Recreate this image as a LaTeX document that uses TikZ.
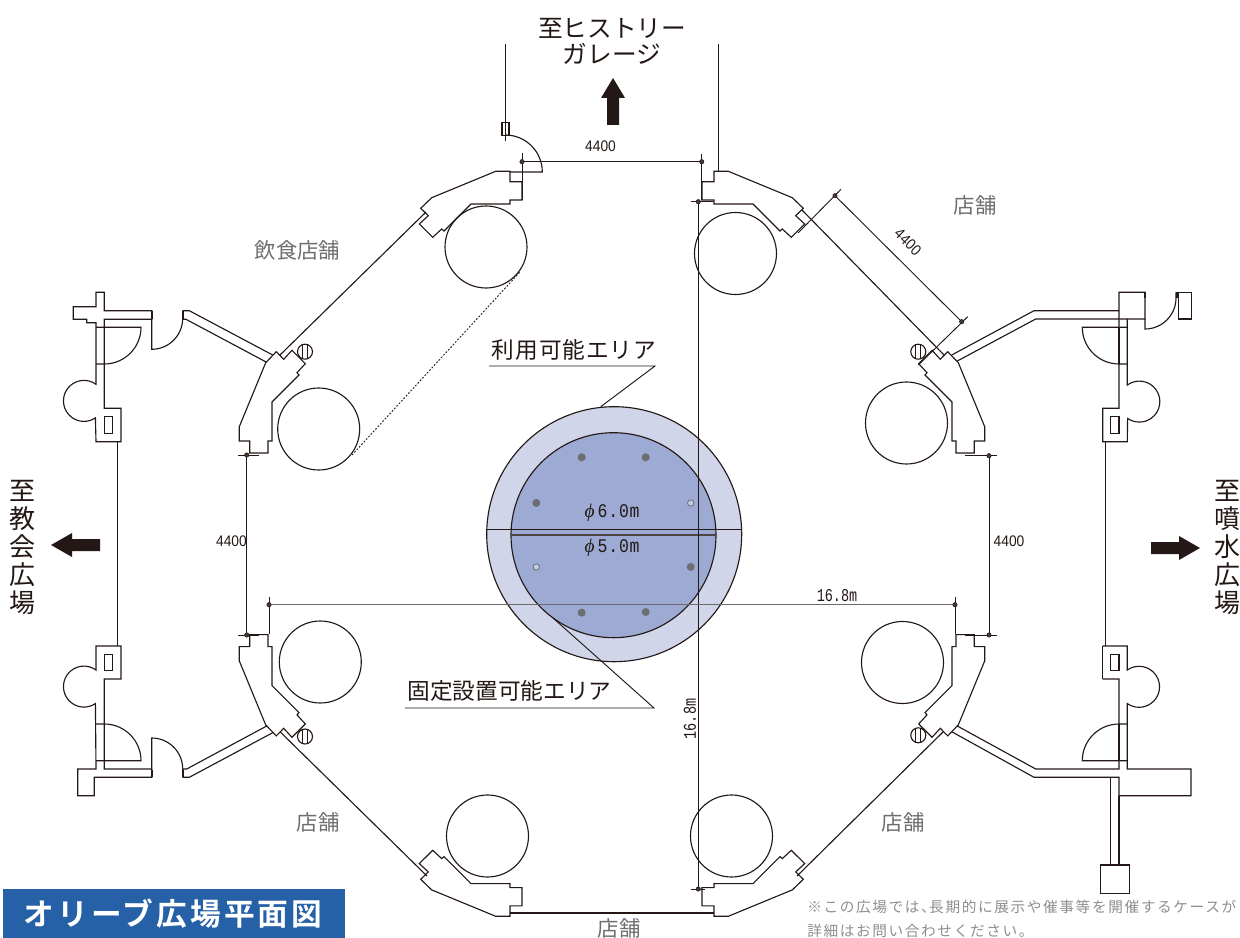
\documentclass[tikz,border=0pt]{standalone}
\usepackage{fontspec}
\setmainfont{Liberation Sans}
\newfontfamily\jp{Noto Sans CJK JP}
\newfontfamily\jpnote[LetterSpace=11]{Noto Sans CJK JP}
\newfontfamily\jplabel[LetterSpace=4]{Noto Sans CJK JP}
\newfontfamily\jptitle[LetterSpace=10]{Noto Sans CJK JP Bold}
\newfontfamily\dimmono[FakeStretch=0.75]{Liberation Mono}
\newfontfamily\dimmonob[FakeStretch=0.85,LetterSpace=4]{Liberation Mono}
\newfontfamily\dimsans[FakeStretch=0.9]{Liberation Sans}
\newfontfamily\phifont{Liberation Serif Italic}
\definecolor{ink}{HTML}{231815}
\definecolor{dimgrey}{HTML}{6D6A6A}
\definecolor{shopgrey}{HTML}{6E6E70}
\definecolor{notegrey}{HTML}{8E8E90}
\definecolor{areaout}{HTML}{D0D5E9}
\definecolor{areain}{HTML}{9DAAD3}
\definecolor{peg}{HTML}{6D6E71}
\definecolor{titleblue}{HTML}{2660A6}
\newcommand{\kioskpath}{(420.7,208.3) -- (431.7,197.7) -- (495.7,171.3) -- (510,171.3) -- (510,181.7) -- (522,181.7) -- (522,200) -- (510,200) -- (510,204) -- (471,204) -- (444,231) -- (441.7,229) -- (432.7,237.3) -- (419.3,224) -- (428.3,215.7) -- cycle}
\tikzset{
  x=0.75pt,y=-0.75pt,
  plan/.style={draw=ink,line width=0.85pt,line join=miter},
  heavy/.style={draw=ink,line width=1.3pt},
  dimline/.style={draw=ink,line width=0.7pt},
  dimgreyline/.style={draw=dimgrey,line width=0.95pt},
  dimdot/.style={fill=ink!85,draw=ink,line width=0.4pt},
  arrowblock/.style={fill=ink,draw=none},
  shoplabel/.style={text=shopgrey,font=\jp\fontsize{16}{16}\selectfont,inner sep=0pt},
  dimlabel/.style={text=ink,font=\dimsans\fontsize{11.5}{11.5}\selectfont,inner sep=0pt},
  monolabel/.style={text=ink,font=\dimmono\fontsize{13.5}{13.5}\selectfont,inner sep=0pt},
  centrelabel/.style={text=ink,font=\dimmonob\fontsize{14.5}{14.5}\selectfont,inner sep=0pt},
  pegfull/.style={fill=peg,draw=none},
  pegopen/.style={fill=areain!60!white,draw=peg,line width=0.6pt},
  toplabel/.style={text=ink,font=\jp\fontsize{18.5}{19.5}\selectfont,align=center,inner sep=0pt},
  dirlabel/.style={text=ink,font=\jp\fontsize{19.5}{20.85}\selectfont,align=center,inner sep=0pt},
  arealabel/.style={text=ink,font=\jplabel\fontsize{17}{17}\selectfont,inner sep=0pt},
  arealabeltight/.style={text=ink,font=\jp\fontsize{17}{17}\selectfont,inner sep=0pt},
}
\begin{document}
\begin{tikzpicture}
\useasboundingbox (0,0) rectangle (1240,938);
% central areas
\fill[areaout] (614.2,534.2) circle[radius=127.5];
\draw[plan] (614.2,534.2) circle[radius=127.5];
\fill[areain] (613.5,535.2) circle[radius=102.5];
\draw[plan] (613.5,535.2) circle[radius=102.5];
\foreach \px/\py in {581.7/457.3,645.7/457.3,536.3/503,690.7/567,581.7/612.7,645.7/612}
  \fill[pegfull] (\px,\py) circle[radius=4];
\foreach \px/\py in {690.7/503,536.3/567}
  \filldraw[pegopen] (\px,\py) circle[radius=3.2];
\draw[dimline] (486.7,529.3) -- (741.7,529.3);
\draw[draw=ink!80,line width=1.2pt] (511,534.7) -- (716,534.7);
\node[centrelabel] (d6) at (612,513) {{\phifont ϕ}\,6.0m};
\node[centrelabel] (d5) at (612,548) {{\phifont ϕ}\,5.0m};
% leader lines
\coordinate (la) at (489,366); \coordinate (lb) at (655,366); \coordinate (lc) at (600.7,406.7);
\draw[dimline] (la) -- (lb) -- (lc);
\coordinate (ld) at (405,708); \coordinate (le) at (654,708); \coordinate (lf) at (553,618);
\draw[dimline] (ld) -- (le) -- (lf);
\node[arealabel] (a1) at (574,350) {利用可能エリア};
\node[arealabeltight] (a2) at (509.5,691) {固定設置可能エリア};
% kiosks
\draw[plan] \kioskpath;
\begin{scope}[shift={(1224,0)},xscale=-1]\draw[plan] \kioskpath;\end{scope}
\begin{scope}[shift={(0,1087.6)},yscale=-1]\draw[plan] \kioskpath;\end{scope}
\begin{scope}[shift={(1224,1087.6)},xscale=-1,yscale=-1]\draw[plan] \kioskpath;\end{scope}
\begin{scope}[cm={0,-1,-1,0,(68,-69)}]\draw[plan] \kioskpath;\end{scope}
\begin{scope}[shift={(1224,0)},xscale=-1,cm={0,-1,-1,0,(68,-69)}]\draw[plan] \kioskpath;\end{scope}
\begin{scope}[shift={(0,1087.6)},yscale=-1,cm={0,-1,-1,0,(68,-69)}]\draw[plan] \kioskpath;\end{scope}
\begin{scope}[shift={(1224,1087.6)},xscale=-1,yscale=-1,cm={0,-1,-1,0,(68,-69)}]\draw[plan] \kioskpath;\end{scope}
% planters
\foreach \cx/\cy in {486/247,735.5/253.5,318.7/429,906.5/423,320.3/662,902.5/662.5,487.5/836,731.5/836}
  \draw[plan] (\cx,\cy) circle[radius=41];
\draw[draw=ink,line width=0.7pt,dash pattern=on 1.3pt off 1.3pt] (352,455) -- (520,272);
% hydrants
\foreach \hx/\hy in {305/351.7,918.3/351.7,305/736.5,918.3/735.3}{
  \draw[plan] (\hx,\hy) circle[radius=7.5];
  \draw[plan] (\hx-2.4,\hy-7) -- (\hx-2.4,\hy+7);
  \draw[plan] (\hx+2.4,\hy-7) -- (\hx+2.4,\hy+7);
}
% diagonal walls
\draw[plan] (426,212) -- (280,355);
\draw[plan] (802,210) -- (944,355);
\draw[plan] (280,731.7) -- (427,876);
\draw[plan] (943.3,731.7) -- (797,876);
% top passage
\draw[plan] (505.3,44) -- (505.3,140.7);
\draw[plan] (502,122.7) rectangle (509,135.3);
\draw[plan] (505.3,135) arc[start angle=-90,end angle=0,radius=37] -- (510,172);
\draw[plan] (718.3,44) -- (718.3,171.7);
\draw[heavy] (510,912.7) -- (714,912.7);
% left upper building
\draw[plan] (96,384.3) arc[start angle=-54,end angle=-304,radius=20.5] -- (96,441.7) -- (121,441.7) -- (121,408.3) -- (104.3,408.3) -- (104.3,319.3) -- (151.7,319.3) -- (151.7,310.7) -- (104.3,310.7) -- (104.3,292.3) -- (96,292.3) -- (96,306.7) -- (73.3,306.7) -- (73.3,319.3) -- (86.7,319.3) -- (86.7,322.7) -- (96,322.7) -- cycle;
\draw[plan] (104.3,416.7) rectangle (112.7,433.7);
\draw[plan] (117.7,441.7) -- (117.7,646);
\draw[plan] (96,327.3) -- (141,327.3) arc[start angle=0,end angle=90,radius=36.7] -- (96,364);
\draw[plan] (151.7,319.3) -- (151.7,349.3) arc[start angle=90,end angle=0,radius=31] -- (182.7,310.7);
\draw[draw=ink,line width=1.8pt] (151.7,311) -- (151.7,319);
\draw[draw=ink,line width=1.8pt] (182.7,311) -- (182.7,319);
\draw[plan] (182.7,310.7) -- (189.3,310.7) -- (272.7,355);
\draw[plan] (182.7,319.3) -- (186,319.3) -- (266.7,362.3);
% left lower building
\draw[plan] (96,670) arc[start angle=-54,end angle=-304,radius=20.5] -- (96,769) -- (77.7,769) -- (77.7,795.7) -- (94.3,795.7) -- (94.3,777.3) -- (151.7,777.3) -- (151.7,769) -- (104.3,769) -- (104.3,679) -- (121,679) -- (121,646) -- (96,646) -- cycle;
\draw[plan] (104.3,654.3) rectangle (112.7,670.7);
\draw[plan] (96,760.7) -- (141,760.7) arc[start angle=0,end angle=-90,radius=36.7] -- (96,724);
\draw[plan] (151.7,769) -- (151.7,738) arc[start angle=-90,end angle=0,radius=31] -- (182.7,777.3);
\draw[draw=ink,line width=1.8pt] (151.7,769.5) -- (151.7,777);
\draw[draw=ink,line width=1.8pt] (182.7,769.5) -- (182.7,777);
\draw[plan] (182.7,769) -- (186.7,769) -- (266.7,726);
\draw[plan] (182.7,777.3) -- (189.3,777.3) -- (272.7,732.7);
% right upper building
\draw[plan] (1119,310.7) -- (1119,292.3) -- (1145,292.3) -- (1145,319) -- (1127.3,319) -- (1127.3,385) arc[start angle=-126,end angle=125,radius=20.5] -- (1127.3,441.7) -- (1102.7,441.7) -- (1102.7,408.3) -- (1119,408.3) -- cycle;
\draw[plan] (1110.7,416.7) rectangle (1119,433.7);
\draw[plan] (1105.7,441.7) -- (1105.7,646);
\draw[plan] (1127.3,327.3) -- (1082.3,327.3) arc[start angle=180,end angle=90,radius=36.7] -- (1127.3,364);
\draw[plan] (1145,319) -- (1145,329) arc[start angle=90,end angle=0,radius=31] -- (1176,292.3);
\draw[draw=ink,line width=1.8pt] (1145,292.5) -- (1145,298);
\draw[draw=ink,line width=1.8pt] (1177.5,292.5) -- (1177.5,298);
\draw[plan] (1178.3,292.3) rectangle (1191.7,319);
\draw[plan] (1119,310.7) -- (1034,310.7) -- (951.7,355);
\draw[plan] (1127.3,319) -- (1035.7,319) -- (957.3,361);
\draw[heavy] (1119,327.3) -- (1119,364);
% right lower building
\draw[plan] (1102.7,646) -- (1127.3,646) -- (1127.3,670) arc[start angle=-125,end angle=125,radius=20.5] -- (1127.3,769) -- (1191,769) -- (1191,795.7) -- (1119,795.7) -- (1119,777.3) -- (1034,777.3) -- (951.7,731.7);
\draw[plan] (957.3,726) -- (1035.7,769) -- (1119,769) -- (1119,679) -- (1102.7,679);
\draw[plan] (1102.7,679) -- (1102.7,646);
\draw[plan] (1110.7,654.3) rectangle (1119,670.7);
\draw[plan] (1127.3,760.7) -- (1082.3,760.7) arc[start angle=180,end angle=270,radius=36.7] -- (1127.3,724);
\draw[heavy] (1119,724) -- (1119,760.7);
\draw[plan] (1110.7,777.3) -- (1110.7,865);
\draw[plan] (1119,795.7) -- (1119,865);
\draw[plan] (1100.7,865) rectangle (1129.3,893.7);
% dimension lines
\coordinate (t1) at (522,161.7); \coordinate (t2) at (701.7,161.7);
\draw[dimline] (t1) -- (t2);
\draw[dimline] (522,153.3) -- (522,200);
\draw[dimline] (701.7,154) -- (701.7,200);
\coordinate (v1) at (698.3,201.7); \coordinate (v2) at (698.3,889);
\draw[dimline] (v1) -- (v2);
\draw[dimline] (690.7,201.7) -- (713,201.7);
\draw[dimline] (690.7,889) -- (705,889);
\coordinate (h1) at (269,604.7); \coordinate (h2) at (955,604.7);
\draw[dimgreyline] (h1) -- (h2);
\draw[dimline] (269,597) -- (269,634);
\draw[dimline] (955,597) -- (955,634);
\coordinate (l1) at (246.7,455); \coordinate (l2) at (246.7,635);
\draw[dimline] (l1) -- (l2);
\draw[dimline] (238,455) -- (259,455);
\draw[dimline] (238,635) -- (259,635);
\coordinate (r1) at (989,455.7); \coordinate (r2) at (989,635);
\draw[dimline] (r1) -- (r2);
\draw[dimline] (965,455.7) -- (997,455.7);
\draw[dimline] (965,635) -- (997,635);
\coordinate (g1) at (835,195.7); \coordinate (g2) at (961.7,321.7);
\draw[dimline] (g1) -- (g2);
\draw[dimline] (841,189.3) -- (798,233);
\draw[dimline] (967.7,316.7) -- (918.3,365);
\foreach \dn in {t1,t2,v1,v2,h1,h2,l1,l2,r1,r2,g1,g2}
  \filldraw[dimdot] (\dn) circle[radius=2.2];
% dimension labels
\node[dimlabel] (n1) at (600.5,146) {4400};
\node[dimlabel] (n2) at (231.5,541) {4400};
\node[dimlabel] (n3) at (1009,541) {4400};
\node[dimlabel,rotate=-45] (n4) at (908,242) {4400};
\node[monolabel] (n5) at (837,596) {16.8m};
\node[monolabel,rotate=90] (n6) at (690,719) {16.8m};
% direction arrows
\fill[arrowblock] (613,78) -- (625,98) -- (619,98) -- (619,125) -- (607,125) -- (607,98) -- (601,98) -- cycle;
\fill[arrowblock] (51,545) -- (72,533) -- (72,539) -- (100,539) -- (100,551) -- (72,551) -- (72,557) -- cycle;
\fill[arrowblock] (1200,548) -- (1179,536) -- (1179,542) -- (1151,542) -- (1151,554) -- (1179,554) -- (1179,560) -- cycle;
\node[toplabel] (top) at (612,41) {至ヒストリー\\ガレージ};
\node[dirlabel] (west) at (23,547.5) {至\\教\\会\\広\\場};
\node[dirlabel] (east) at (1227,547.5) {至\\噴\\水\\広\\場};
% shop labels
\node[shoplabel] (s1) at (297.5,250) {飲食店舗};
\node[shoplabel] (s2) at (975,205) {店舗};
\node[shoplabel] (s3) at (318,822) {店舗};
\node[shoplabel] (s4) at (903,822) {店舗};
\node[shoplabel] (s5) at (619,928) {店舗};
% title and note
\fill[titleblue] (2.5,889) rectangle (345,938);
\node[text=white,font=\jptitle\fontsize{23}{23}\selectfont,inner sep=0pt] (ti) at (173,914) {オリーブ広場平面図};
\node[anchor=west,text=notegrey,font=\jpnote\fontsize{11}{11}\selectfont,inner sep=0pt] (no1) at (807,907) {※この広場では、\kern-5pt 長期的に展示や催事等を開催するケースが};
\node[anchor=west,text=notegrey,font=\jpnote\fontsize{11}{11}\selectfont,inner sep=0pt] (no2) at (807,931) {詳細はお問い合わせください。};
\end{tikzpicture}
\end{document}
